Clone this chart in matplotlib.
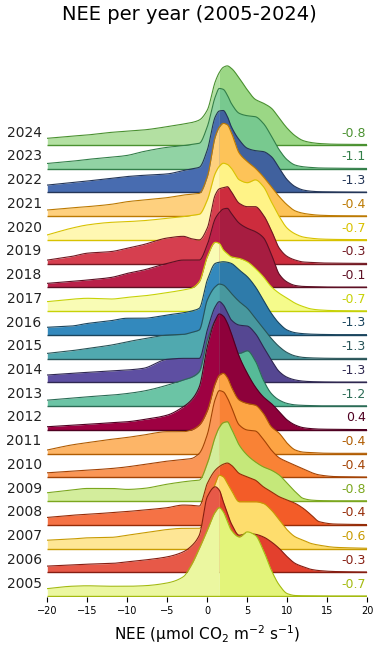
import colorsys
import numpy as np
import matplotlib
matplotlib.use("Agg")
import matplotlib.pyplot as plt

years = list(range(2005, 2025))
means = [-0.73, -0.31, -0.61, -0.36, -0.77, -0.39, -0.42, 0.42, -1.21, -1.34,
         -1.26, -1.29, -0.70, -0.12, -0.27, -0.66, -0.44, -1.31, -1.09, -0.81]

x_grid = [-20, -17, -15, -12, -10, -8, -5, -3, -2, -1, 0, 1, 1.5, 2, 2.5, 3, 4, 5,
          6, 7, 8, 9, 10, 11, 12, 13, 14, 16, 20]

dens = {
    2024: [.28, .37, .42, .53, .58, .63, .77, .88, .94, 1.05, 1.47, 2.67, 3.05, 3.27, 3.33, 3.23, 2.81, 2.32, 1.92, 1.76, 1.55, 1.12, .70, .38, .18, .10, .06, .03, .02],
    2023: [.22, .31, .39, .48, .56, .72, .90, .97, 1.02, 1.07, 1.77, 3.03, 3.38, 3.34, 3.10, 2.75, 2.33, 2.23, 2.19, 1.91, 1.38, .79, .37, .15, .08, .05, .03, .02, .01],
    2022: [.31, .41, .48, .60, .67, .72, .78, .92, .99, 1.06, 1.79, 3.19, 3.43, 3.45, 3.20, 2.77, 2.21, 1.86, 1.76, 1.72, 1.51, 1.02, .53, .24, .10, .05, .03, .02, .01],
    2021: [.26, .35, .40, .50, .61, .68, .78, .89, .92, .96, 1.66, 3.35, 3.75, 3.91, 3.85, 3.52, 2.65, 2.30, 2.02, 1.66, 1.24, .82, .47, .22, .12, .07, .04, .02, .01],
    2020: [.21, .49, .63, .74, .77, .81, .91, .98, 1.03, 1.08, 1.68, 2.81, 3.10, 3.23, 3.18, 3.02, 2.53, 2.41, 2.53, 2.25, 1.61, .98, .49, .25, .12, .07, .04, .02, .01],
    2019: [.15, .30, .44, .51, .65, .80, 1.08, 1.15, 1.05, 1.00, 1.50, 2.90, 3.15, 3.20, 3.24, 3.03, 2.54, 2.40, 2.40, 2.05, 1.40, .65, .30, .15, .07, .05, .03, .02, .01],
    2018: [.17, .25, .31, .42, .59, .73, 1.01, 1.15, 1.15, 1.15, 1.80, 2.90, 3.15, 3.30, 3.33, 3.12, 2.70, 2.49, 2.35, 2.10, 1.40, .55, .22, .08, .04, .03, .02, .01, .01],
    2017: [.40, .50, .54, .51, .58, .64, .78, .89, .96, 1.24, 2.29, 2.90, 2.85, 2.58, 2.42, 2.29, 2.22, 2.08, 1.80, 1.45, 1.03, .75, .54, .33, .19, .09, .05, .02, .01],
    2016: [.32, .37, .48, .60, .70, .70, .84, .93, 1.00, 1.12, 2.31, 3.01, 3.06, 3.08, 3.06, 3.01, 2.73, 2.45, 2.03, 1.47, .91, .48, .20, .09, .05, .03, .02, .01, .01],
    2015: [.22, .33, .43, .57, .71, .83, .99, 1.02, 1.10, 1.21, 2.47, 3.03, 3.14, 3.10, 2.95, 2.75, 2.40, 2.12, 1.70, 1.28, .85, .50, .25, .11, .05, .03, .02, .01, .01],
    2014: [.31, .38, .42, .48, .52, .59, .97, 1.01, 1.01, 1.01, 2.20, 3.19, 3.40, 3.26, 2.95, 2.63, 2.41, 2.37, 2.06, 1.50, .94, .45, .21, .10, .05, .03, .02, .01, .01],
    2013: [.25, .33, .39, .46, .53, .63, .88, 1.10, 1.21, 1.45, 2.78, 3.60, 3.75, 3.70, 3.30, 2.80, 2.22, 2.33, 1.90, 1.10, .53, .25, .11, .05, .03, .02, .01, .01, .01],
    2012: [.13, .19, .23, .30, .34, .43, .62, .97, 1.25, 1.81, 3.50, 4.62, 4.88, 4.79, 4.50, 4.06, 3.08, 2.38, 1.81, 1.39, 1.11, .76, .41, .20, .09, .05, .03, .02, .01],
    2011: [.15, .36, .46, .60, .68, .78, .92, .92, .99, 1.20, 1.80, 2.96, 3.30, 3.38, 3.20, 2.81, 2.25, 2.11, 2.04, 1.69, 1.13, .85, .43, .15, .06, .04, .02, .01, .01],
    2010: [.19, .26, .30, .37, .44, .54, .68, .75, .79, 1.01, 1.80, 3.30, 3.65, 3.60, 3.35, 2.97, 2.20, 1.99, 1.95, 1.60, 1.15, .82, .65, .50, .35, .20, .10, .03, .01],
    2009: [.35, .46, .53, .53, .49, .53, .71, .81, .85, .88, 1.58, 2.71, 3.10, 3.30, 3.34, 3.05, 2.35, 1.93, 1.65, 1.44, 1.30, 1.09, .74, .39, .11, .04, .02, .01, .01],
    2008: [.31, .40, .44, .51, .56, .62, .72, .83, .82, .79, 1.74, 2.30, 2.45, 2.55, 2.60, 2.51, 2.16, 2.02, 1.88, 1.60, 1.39, 1.18, 1.04, .90, .69, .41, .13, .03, .01],
    2007: [.35, .40, .45, .47, .56, .66, .80, .85, .85, .85, 1.62, 2.74, 3.09, 3.02, 2.75, 2.46, 1.97, 1.97, 1.97, 1.90, 1.62, 1.20, .78, .49, .35, .21, .14, .05, .01],
    2006: [.26, .31, .34, .37, .44, .51, .65, .86, 1.10, 1.56, 3.18, 3.60, 3.46, 2.97, 2.50, 2.05, 1.56, 1.63, 1.60, 1.49, 1.28, 1.00, .65, .37, .23, .12, .07, .03, .01],
    2005: [.31, .41, .43, .41, .41, .43, .55, .81, 1.30, 2.00, 2.77, 3.54, 3.72, 3.54, 3.15, 2.77, 2.49, 2.70, 2.56, 1.93, 1.09, .46, .10, .02, .01, .01, 0, 0, 0],
}

split_x = 1.5
xticks = [-20, -15, -10, -5, 0, 5, 10, 15, 20]


def pchip(x, y, xn):
    """Monotone cubic (PCHIP) rendering of a polyline through (x, y)."""
    x = np.asarray(x, float)
    y = np.asarray(y, float)
    h = np.diff(x)
    delta = np.diff(y) / h
    m = np.zeros_like(y)
    for k in range(1, len(x) - 1):
        if delta[k - 1] * delta[k] > 0:
            w1 = 2 * h[k] + h[k - 1]
            w2 = h[k] + 2 * h[k - 1]
            m[k] = (w1 + w2) / (w1 / delta[k - 1] + w2 / delta[k])
    m[0] = delta[0]
    m[-1] = delta[-1]
    idx = np.clip(np.searchsorted(x, xn) - 1, 0, len(x) - 2)
    t = (xn - x[idx]) / h[idx]
    h00 = 2 * t**3 - 3 * t**2 + 1
    h10 = t**3 - 2 * t**2 + t
    h01 = -2 * t**3 + 3 * t**2
    h11 = t**3 - t**2
    return (h00 * y[idx] + h10 * h[idx] * m[idx] + h01 * y[idx + 1]
            + h11 * h[idx] * m[idx + 1])


def scale_light(rgb, f):
    h, l, s = colorsys.rgb_to_hls(*rgb[:3])
    return colorsys.hls_to_rgb(h, max(0, min(1, l * f)), s)


cmap = matplotlib.colormaps['Spectral']
order = sorted(range(len(years)), key=lambda i: -means[i])
rank = {years[i]: r for r, i in enumerate(order)}

fig = plt.figure(figsize=(3.79, 6.46), dpi=100)
ax = fig.add_axes([47.3 / 379, 1 - 597 / 646, 320 / 379, (597 - 50) / 646])

xs = np.linspace(-20, 20, 801)
n = len(years)
for idx in range(n - 1, -1, -1):
    yr = years[idx]
    off = idx
    d = np.clip(pchip(x_grid, dens[yr], xs), 0, None)
    base = cmap(rank[yr] / (n - 1))[:3]
    right_c = scale_light(base, 0.9)
    dark = scale_light(base, 0.5)
    z = 10 + (n - idx) * 3
    ax.fill_between(xs, off, off + d, where=xs <= split_x + 0.03, color=base,
                    lw=0, zorder=z)
    ax.fill_between(xs, off, off + d, where=xs >= split_x, color=right_c,
                    lw=0, zorder=z)
    ax.plot(xs, off + d, color=dark, lw=0.8, zorder=z + 1)
    ax.plot([-20, 20], [off, off], color=dark, lw=1.0, zorder=z + 1,
            solid_capstyle='butt')
    ax.text(-20.7, off + 0.52, str(yr), ha='right', va='center', fontsize=10,
            color='#222222', clip_on=False)
    ax.text(19.8, off + 0.5, f"{means[idx]:.1f}", ha='right', va='center',
            fontsize=9, color=dark, zorder=100)

ax.set_xlim(-20, 20)
ax.set_ylim(-1 / 23.74, (596 - 50) / 23.74)
for s in ax.spines.values():
    s.set_visible(False)
ax.set_yticks([])
ax.set_xticks(xticks)
ax.tick_params(axis='x', labelsize=7, length=3.5, width=0.8, pad=3)
ax.set_xlabel(r"NEE ($\mathrm{\mu}$mol CO$_2$ m$^{-2}$ s$^{-1}$)", fontsize=11,
              labelpad=5)
fig.text(0.5, 1 - 15 / 646, "NEE per year (2005-2024)", ha='center', va='center',
         fontsize=14)
fig.patch.set_facecolor('white')
fig.savefig("out.png", dpi=100, facecolor='white')
